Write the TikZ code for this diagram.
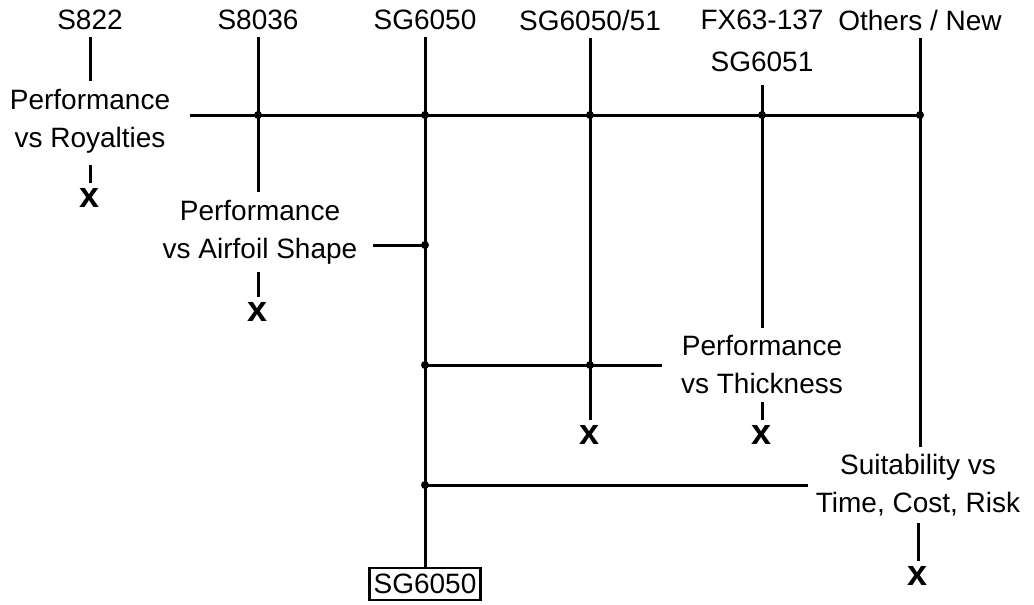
\documentclass[tikz,border=0pt]{standalone}
\usepackage{fontspec}
\setmainfont{Liberation Sans}
\usetikzlibrary{positioning}
\tikzset{
  lbl/.style={font=\fontsize{14}{19}\selectfont, align=center, inner sep=3pt},
  crossmark/.style={font=\fontsize{18}{19}\selectfont\bfseries, inner sep=2pt},
  link/.style={line width=1.5pt},
}
\begin{document}
\begin{tikzpicture}[x=0.5pt, y=-0.5pt, link]
    \useasboundingbox (0,0) rectangle (1034,605);
    % candidate airfoils
    \node[lbl] (s822)     at (90,20)  {S822};
    \node[lbl] (s8036)    at (258,20) {S8036};
    \node[lbl] (sg6050)   at (425,20) {SG6050};
    \node[lbl] (sg605051) at (590,20) {SG6050/51};
    \node[lbl] (fx63)     at (762,41) {FX63-137\\[2pt]SG6051};
    \node[lbl] (others)   at (920,20) {Others / New};
    % criteria
    \node[lbl] (royal)   at (90,121)  {Performance\\vs Royalties};
    \node[lbl] (airfoil) at (260,232) {Performance\\vs Airfoil Shape};
    \node[lbl] (thick)   at (762,365) {Performance\\vs Thickness};
    \node[lbl] (suit)    at (918,485) {Suitability vs\\Time, Cost, Risk};
    % rejected
    \node[crossmark] (xroy)   at (90,198)  {x};
    \node[crossmark] (xair)   at (258,312) {x};
    \node[crossmark] (x51)    at (590,435) {x};
    \node[crossmark] (xthick) at (762,435) {x};
    \node[crossmark] (xsuit)  at (918,576) {x};
    % choice
    \node[lbl, draw, line width=1.2pt, inner xsep=2pt, inner ysep=3pt] (final) at (425,584) {SG6050};
    % junctions
    \coordinate (m8036)   at (258,115);
    \coordinate (m6050)   at (425,115);
    \coordinate (m605051) at (590,115);
    \coordinate (mfx)     at (762,115);
    \coordinate (mothers) at (920,115);
    \coordinate (bair)    at (425,245);
    \coordinate (bthick)  at (425,365);
    \coordinate (b51)     at (590,365);
    \coordinate (bsuit)   at (425,485);

    \draw (s822) -- (royal);
    \draw[shorten <=2pt] (royal) -- (xroy);
    \draw ([xshift=6pt]royal.east |- m8036) -- (mothers);
    \draw (s8036) -- (s8036 |- airfoil.north);
    \draw (xair |- airfoil.south) -- (xair);
    \draw ([xshift=4pt]airfoil.east |- bair) -- (bair);
    \draw (sg6050) -- (final);
    \draw (sg605051) -- (x51);
    \draw[shorten <=3pt] (fx63) -- (fx63 |- thick.north);
    \draw (bthick) -- ([xshift=-6pt]thick.west);
    \draw (thick) -- (xthick);
    \draw (others) -- (others |- suit.north);
    \draw (bsuit) -- (bsuit -| suit.west);
    \draw (suit) -- (xsuit);
    \foreach \j in {m8036,m6050,m605051,mfx,mothers,bair,bthick,b51,bsuit}
      \fill (\j) circle (2pt);
\end{tikzpicture}
\end{document}
